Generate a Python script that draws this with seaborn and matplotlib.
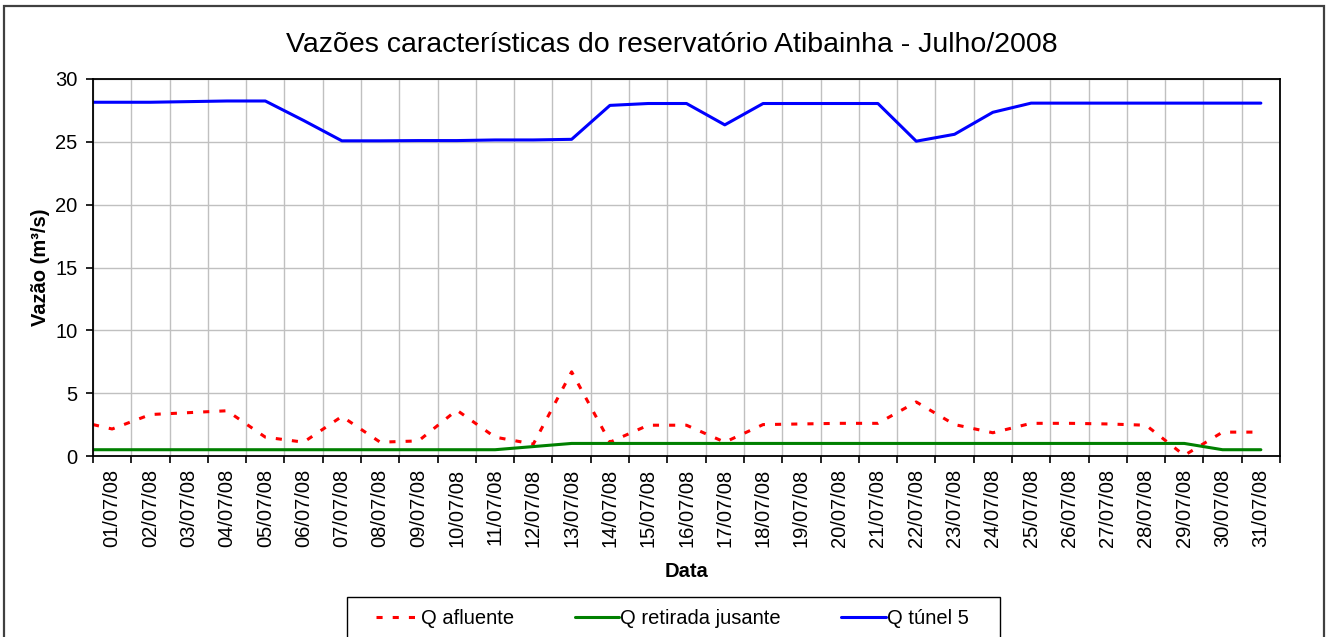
import matplotlib
matplotlib.use('Agg')
import pandas as pd
import matplotlib.pyplot as plt
import matplotlib.dates as mdates
from matplotlib.ticker import NullFormatter
from matplotlib.patches import Rectangle
import seaborn as sns

# Leitura inicial (00h de 01/07) + valor diario (meio-dia) de 01/07 a 31/07
horarios = pd.to_datetime(['2008-07-01 00:00'] +
                          [f'2008-07-{d:02d} 12:00' for d in range(1, 32)])

q_afluente = [2.5,
              2.15, 3.3, 3.45, 3.6, 1.5, 1.1, 3.15, 1.1, 1.2, 3.65,
              1.5, 0.95, 6.7, 1.1, 2.45, 2.45, 1.1, 2.5, 2.55, 2.6,
              2.6, 4.3, 2.5, 1.85, 2.6, 2.6, 2.55, 2.45, 0.05, 1.9,
              1.9]
q_retirada = [0.5,
              0.5, 0.5, 0.5, 0.5, 0.5, 0.5, 0.5, 0.5, 0.5, 0.5,
              0.5, 0.75, 1.0, 1.0, 1.0, 1.0, 1.0, 1.0, 1.0, 1.0,
              1.0, 1.0, 1.0, 1.0, 1.0, 1.0, 1.0, 1.0, 1.0, 0.5,
              0.5]
q_tunel = [28.15,
           28.15, 28.15, 28.2, 28.25, 28.25, 26.7, 25.08, 25.08, 25.1, 25.1,
           25.15, 25.15, 25.2, 27.9, 28.05, 28.05, 26.35, 28.05, 28.05, 28.05,
           28.05, 25.05, 25.6, 27.35, 28.08, 28.08, 28.08, 28.08, 28.08, 28.08,
           28.08]

series = [
    ('Q afluente', q_afluente, '#ff0000', (0, (2, 3.3))),
    ('Q retirada jusante', q_retirada, '#008000', '-'),
    ('Q túnel 5', q_tunel, '#0000ff', '-'),
]

sns.set_style('ticks')
plt.rcParams['font.family'] = ['Liberation Sans', 'DejaVu Sans']
plt.rcParams['text.color'] = 'black'
plt.rcParams['axes.labelcolor'] = 'black'

W, H = 1332, 637
fig = plt.figure(figsize=(W / 100, H / 100), dpi=100)
ax = fig.add_axes([93 / W, 1 - 456 / H, (1280 - 93) / W, (456 - 79) / H])

for nome, valores, cor, estilo in series:
    sns.lineplot(x=horarios, y=valores, ax=ax, color=cor, lw=2.2,
                 linestyle=estilo, label=nome)
if ax.get_legend() is not None:
    ax.get_legend().remove()

ax.set_xlim(pd.Timestamp('2008-07-01'), pd.Timestamp('2008-08-01'))
ax.set_ylim(0, 30)
ax.set_yticks(range(0, 31, 5))

ax.xaxis.set_major_locator(mdates.DayLocator())
ax.xaxis.set_major_formatter(NullFormatter())
ax.xaxis.set_minor_locator(mdates.HourLocator(byhour=12))
ax.xaxis.set_minor_formatter(mdates.DateFormatter('%d/%m/%y'))
ax.tick_params(axis='x', which='minor', length=0, labelrotation=90,
               labelsize=14.5, pad=9, labelcolor='black')
ax.tick_params(axis='x', which='major', length=5, width=1.2, color='black',
               direction='out', bottom=True)
ax.tick_params(axis='y', length=5, width=1.2, color='black', direction='out',
               labelsize=14.5, pad=6, left=True, labelcolor='black')

ax.grid(True, which='major', color='#c0c0c0', lw=1)
ax.set_axisbelow(True)
for s in ax.spines.values():
    s.set_color('black')
    s.set_linewidth(1.3)
    s.set_visible(True)

ax.set_ylabel('Vazão (m³/s)', fontweight='bold', fontsize=14.5, labelpad=4)
ax.set_xlabel('Data', fontweight='bold', fontsize=14.5, labelpad=11)

fig.text(672 / W, 1 - 45 / H,
         'Vazões características do reservatório Atibainha - Julho/2008',
         ha='center', va='center', fontsize=20.5)

# legenda sem moldura; moldura desenhada a parte
handles, labels = ax.get_legend_handles_labels()
leg = fig.legend(handles, labels, loc='center left',
                 bbox_to_anchor=(376 / W, 1 - 619 / H), ncol=3,
                 frameon=False, borderaxespad=0, borderpad=0,
                 handlelength=2.2, handletextpad=0.05, columnspacing=3.0,
                 fontsize=14.5)
fig.add_artist(Rectangle((347 / W, -0.05), (1000 - 347) / W,
                         (1 - 597 / H) + 0.05, transform=fig.transFigure,
                         fill=False, edgecolor='black', lw=1.0))

fig.add_artist(Rectangle((4 / W, -0.05), (1324 - 4) / W, (1 - 6 / H) + 0.05,
                         transform=fig.transFigure, fill=False,
                         edgecolor='#404040', lw=1.6))

fig.savefig('out.png', dpi=100)
